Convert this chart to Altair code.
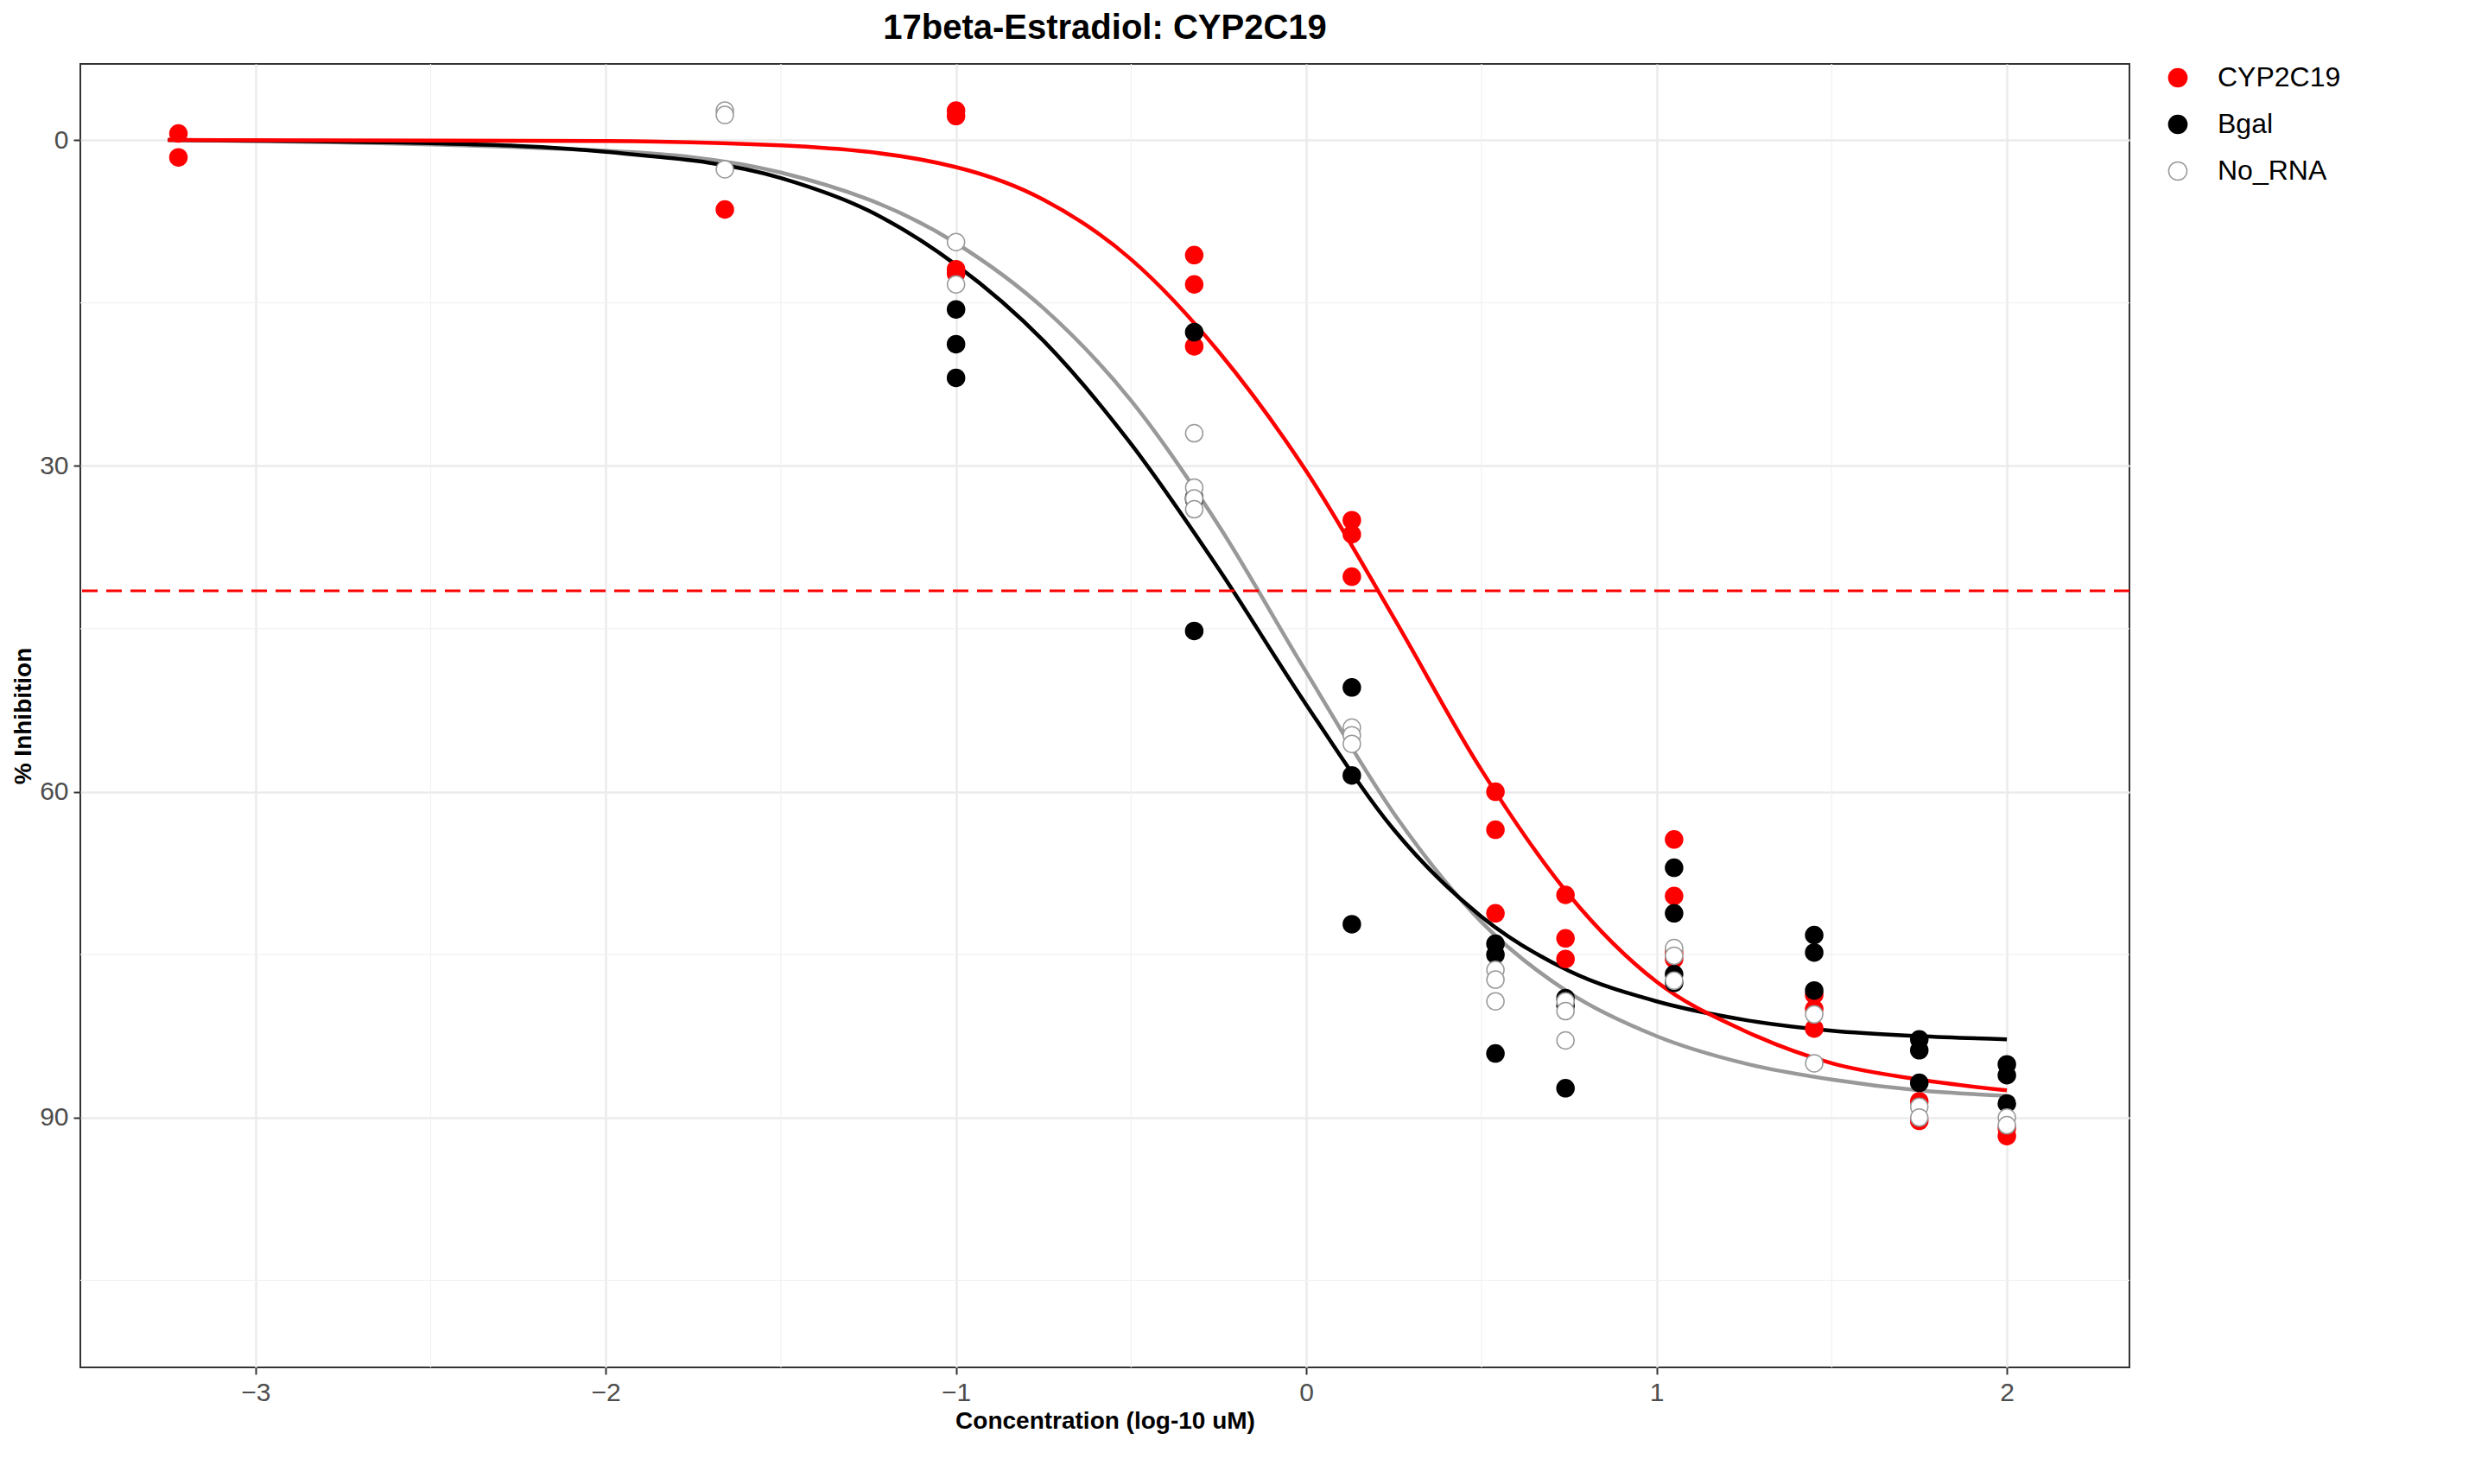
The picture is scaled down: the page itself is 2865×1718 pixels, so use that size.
import pandas as pd
import altair as alt

# observed points (log10 uM, % inhibition)
red_x = [-3.22]*2 + [-1.66] + [-1.0]*4 + [-0.32]*3 + [0.13]*3 + [0.54]*3 + [0.74]*3 + [1.05]*4 + [1.45]*3 + [1.75]*2 + [2.0]*2
red_y = [-0.6, 1.6, 6.4, -2.7, -2.2, 11.9, 12.3, 10.6, 13.3, 19.0, 35.0, 36.3, 40.2,
         60.0, 63.5, 71.2, 69.5, 73.5, 75.4, 64.4, 69.6, 74.8, 75.4, 78.7, 80.0, 81.8,
         88.5, 90.3, 91.0, 91.7]
blk_x = [-1.0]*3 + [-0.32]*4 + [0.13]*3 + [0.54]*3 + [0.74]*3 + [1.05]*4 + [1.45]*3 + [1.75]*3 + [2.0]*3
blk_y = [15.6, 18.8, 21.9, 17.7, 32.9, 33.1, 45.2, 50.4, 58.5, 72.2, 74.0, 75.0, 84.1,
         79.0, 79.7, 87.3, 67.0, 71.2, 76.8, 77.6, 73.2, 74.8, 78.3, 82.8, 83.8, 86.8,
         85.1, 86.1, 88.7]
nor_x = [-1.66]*3 + [-1.0]*2 + [-0.32]*4 + [0.13]*3 + [0.54]*3 + [0.74]*3 + [1.05]*3 + [1.45]*2 + [1.75]*2 + [2.0]*2
nor_y = [-2.7, -2.3, 2.7, 9.4, 13.3, 27.0, 32.0, 33.0, 34.0, 54.1, 54.8, 55.6, 76.4,
         77.3, 79.3, 79.3, 80.2, 82.9, 74.4, 75.1, 77.4, 80.5, 85.0, 89.0, 90.0, 90.0, 90.7]

# fitted curves
red_cx = [-3.25, -2, -1.5, -1, -0.75, -0.5, -0.25, 0, 0.25, 0.5, 0.75, 1, 1.25, 1.5, 1.75, 2]
red_cy = [0, 0.1, 0.5, 2.5, 5.5, 11, 19.5, 30.5, 44, 58, 69.5, 77.5, 82, 85, 86.5, 87.5]
blk_cx = [-3.25, -2.5, -2, -1.5, -1.25, -1, -0.75, -0.5, -0.25, 0, 0.25, 0.5, 0.75, 1, 1.25, 1.5, 1.75, 2]
blk_cy = [0, 0.3, 1.1, 3.5, 6.5, 11.5, 18.5, 28, 39.5, 52, 63.5, 71.5, 76.5, 79.3, 81, 82, 82.5, 82.8]
nor_cx = [-3.25, -2, -1.5, -1, -0.75, -0.5, -0.25, 0, 0.25, 0.5, 0.75, 1, 1.25, 1.5, 1.75, 2]
nor_cy = [0, 1, 3, 9.5, 15.5, 24, 35.5, 49, 62, 72, 78.5, 82.5, 85, 86.5, 87.5, 88]

ic50_line = 41.5
groups = ["CYP2C19", "Bgal", "No_RNA"]

pts = pd.concat([
    pd.DataFrame({"x": red_x, "y": red_y, "g": "CYP2C19"}),
    pd.DataFrame({"x": blk_x, "y": blk_y, "g": "Bgal"}),
    pd.DataFrame({"x": nor_x, "y": nor_y, "g": "No_RNA"}),
])
curves = pd.concat([
    pd.DataFrame({"x": nor_cx, "y": nor_cy, "g": "No_RNA"}),
    pd.DataFrame({"x": blk_cx, "y": blk_cy, "g": "Bgal"}),
    pd.DataFrame({"x": red_cx, "y": red_cy, "g": "CYP2C19"}),
])

xs = alt.Scale(domain=[-3.5, 2.35], nice=False, zero=False)
ys = alt.Scale(domain=[-7, 113], reverse=True, nice=False, zero=False)
X = alt.X("x:Q", scale=xs, title="Concentration (log-10 uM)",
          axis=alt.Axis(values=[-3, -2, -1, 0, 1, 2], format="d", gridColor="#ebebeb", gridWidth=2.5))
Y = alt.Y("y:Q", scale=ys, title="% Inhibition",
          axis=alt.Axis(values=[0, 30, 60, 90], format="d", gridColor="#ebebeb", gridWidth=2.5))

minor_x = pd.DataFrame({"x": [-2.5, -1.5, -0.5, 0.5, 1.5]})
minor_y = pd.DataFrame({"y": [15, 45, 75, 105]})
gx = alt.Chart(minor_x).mark_rule(color="#f2f2f2", strokeWidth=1.3).encode(x=alt.X("x:Q", scale=xs))
gy = alt.Chart(minor_y).mark_rule(color="#f2f2f2", strokeWidth=1.3).encode(y=alt.Y("y:Q", scale=ys))

lines = alt.Chart(curves).mark_line(strokeWidth=4.5, interpolate="monotone").encode(
    x=X, y=Y, detail="g:N",
    stroke=alt.Stroke("g:N", scale=alt.Scale(domain=groups, range=["#ff0000", "#000000", "#999999"]),
                      legend=None))

hline = alt.Chart(pd.DataFrame({"y": [ic50_line]})).mark_rule(
    color="#ff0000", strokeWidth=3, strokeDash=[18, 10]).encode(y=alt.Y("y:Q", scale=ys))

points = alt.Chart(pts).mark_point(filled=False, size=400, strokeWidth=1.5, opacity=1).encode(
    x=X, y=Y,
    color=alt.Color("g:N", scale=alt.Scale(domain=groups, range=["#ff0000", "#000000", "#999999"]),
                    title="", sort=groups),
    fill=alt.Fill("g:N", scale=alt.Scale(domain=groups, range=["#ff0000", "#000000", "#ffffff"]),
                  title="", sort=groups),
)

chart = alt.layer(gx, gy, lines, hline, points).resolve_scale(stroke="independent").properties(
    width=2372, height=1509,
    title=alt.Title("17beta-Estradiol: CYP2C19", fontSize=40, font="Liberation Sans",
                    fontWeight="bold", anchor="middle", color="black"),
).configure_view(stroke="#333333", strokeWidth=2).configure_axis(
    labelFont="Liberation Sans", titleFont="Liberation Sans", labelFontSize=30,
    titleFontSize=28, titleFontWeight="bold", labelColor="#4d4d4d", titleColor="black",
    domain=False, tickColor="#333333", tickSize=8, tickWidth=2, labelPadding=6,
).configure_legend(
    labelFont="Liberation Sans", labelFontSize=32, symbolSize=450, symbolStrokeWidth=1.5,
    orient="right", offset=40, rowPadding=22, labelOffset=30, labelColor="black",
).configure_title(offset=20)

chart.save("out.html", embed_options={"renderer": "svg", "actions": False})
